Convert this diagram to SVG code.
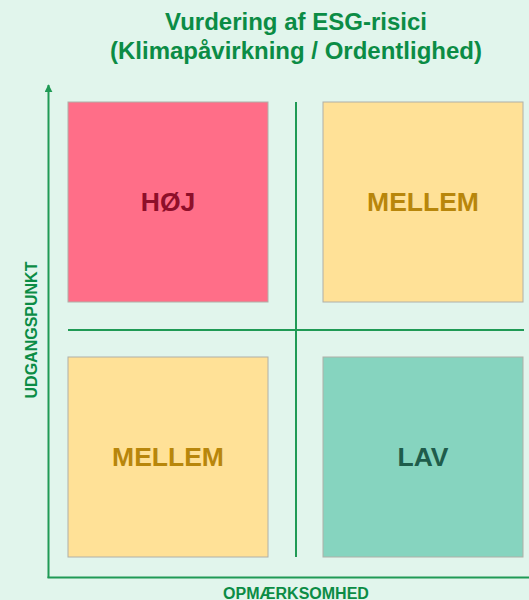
<svg xmlns="http://www.w3.org/2000/svg" width="529" height="600" viewBox="0 0 529 600">
  <style>
    .title { font-family: "Liberation Sans", Arial, sans-serif; font-weight: bold; font-size: 24px; fill: #0b8c45; text-anchor: middle; }
    .axislabel { font-family: "Liberation Sans", Arial, sans-serif; font-weight: bold; font-size: 16px; fill: #0b8c45; text-anchor: middle; }
    .axis { stroke: #1f9a55; stroke-width: 2; fill: none; }
    .divider { stroke: #1f9a55; stroke-width: 2; fill: none; }
    .box { stroke: #b0b0a8; stroke-width: 1; }
    .lbl { font-family: "Liberation Sans", Arial, sans-serif; font-weight: bold; font-size: 26.5px; text-anchor: middle; }
  </style>
  <defs>
    <marker id="arrow" viewBox="0 0 10 10" refX="9" refY="5" markerWidth="4" markerHeight="4" orient="auto" markerUnits="strokeWidth">
      <path d="M0,0 L10,5 L0,10 z" fill="#1f9a55"/>
    </marker>
  </defs>
  <rect x="0" y="0" width="529" height="600" fill="#e1f5ec"/>

  <g id="title">
    <text class="title" x="296" y="30">Vurdering af ESG-risici</text>
    <text class="title" x="296" y="59">(Klimapåvirkning / Ordentlighed)</text>
  </g>

  <g id="connectors">
    <line class="axis" x1="48.5" y1="578" x2="48.5" y2="85" marker-end="url(#arrow)"/>
    <line class="axis" x1="47.5" y1="577.5" x2="529" y2="577.5"/>
    <line class="divider" x1="296" y1="102" x2="296" y2="557"/>
    <line class="divider" x1="68" y1="330" x2="524" y2="330"/>
  </g>

  <g id="node-high">
    <rect class="box" x="68" y="102" width="200" height="200" fill="#ff6e88"/>
    <text class="lbl" x="168" y="211" fill="#8e0f2a">HØJ</text>
  </g>
  <g id="node-medium-top">
    <rect class="box" x="323" y="102" width="200" height="200" fill="#ffe197"/>
    <text class="lbl" x="423" y="211" fill="#b8860b">MELLEM</text>
  </g>
  <g id="node-medium-bottom">
    <rect class="box" x="68" y="357" width="200" height="200" fill="#ffe197"/>
    <text class="lbl" x="168" y="466" fill="#b8860b">MELLEM</text>
  </g>
  <g id="node-low">
    <rect class="box" x="323" y="357" width="200" height="200" fill="#86d4bf"/>
    <text class="lbl" x="423" y="466" fill="#1e5c4b">LAV</text>
  </g>

  <g id="axis-labels">
    <text class="axislabel" x="296" y="598.5">OPMÆRKSOMHED</text>
    <text class="axislabel" transform="translate(37,330) rotate(-90)" x="0" y="0">UDGANGSPUNKT</text>
  </g>
</svg>
